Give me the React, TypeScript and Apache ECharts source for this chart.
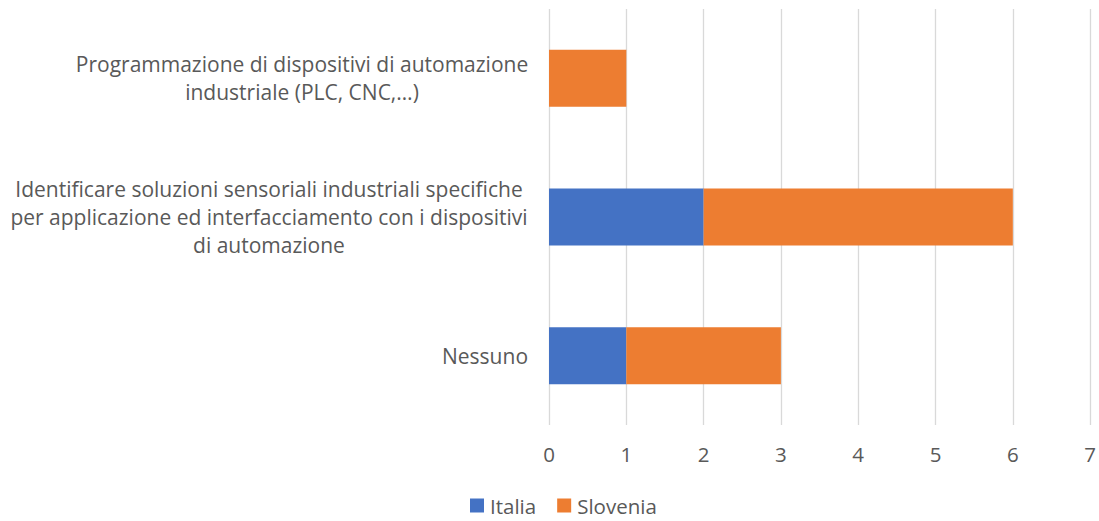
import React, { useEffect, useRef } from "react";
import * as echarts from "echarts";

const categories = [
  "Nessuno",
  "Identificare soluzioni sensoriali industriali specifiche per applicazione ed interfacciamento con i dispositivi di automazione",
  "Programmazione di dispositivi di automazione industriale (PLC, CNC,…)",
];
const labelLines = [
  ["Nessuno"],
  [
    "Identificare soluzioni sensoriali industriali specifiche",
    "per applicazione ed interfacciamento con i dispositivi",
    "di automazione",
  ],
  ["Programmazione di dispositivi di automazione", "industriale (PLC, CNC,…)"],
];
const labelWidths = [84, 516, 450];
const italia = [1, 2, 0];
const slovenia = [2, 4, 1];
const xTicks = [0, 7, 1];

const FONT = "'Open Sans', 'Noto Sans', sans-serif";
const TEXT = "#595959";

export default function App() {
  const ref = useRef<HTMLDivElement>(null);
  useEffect(() => {
    if (!ref.current) return;
    const chart = echarts.init(ref.current, undefined, { renderer: "svg" });
    const rich: Record<string, any> = {};
    labelWidths.forEach((w, i) => {
      rich["l" + i] = {
        width: w,
        align: "center",
        fontSize: 21,
        lineHeight: 28,
        color: TEXT,
        fontFamily: FONT,
      };
    });
    chart.setOption({
      animation: false,
      textStyle: { fontFamily: FONT },
      grid: { left: 549, right: 8, top: 9, bottom: 96, containLabel: false },
      xAxis: {
        type: "value",
        min: xTicks[0],
        max: xTicks[1],
        interval: xTicks[2],
        axisLine: { show: false },
        axisTick: { show: false },
        splitLine: { lineStyle: { color: "#d9d9d9", width: 1.3 } },
        axisLabel: { color: TEXT, fontSize: 20.5, fontFamily: FONT, margin: 18 },
      },
      yAxis: {
        type: "category",
        data: categories,
        axisLine: { show: false },
        axisTick: { show: false },
        axisLabel: {
          margin: 22,
          align: "right",
          formatter: (_v: string, idx: number) =>
            labelLines[idx].map((l) => `{l${idx}|${l}}`).join("\n"),
          rich,
        },
      },
      legend: {
        top: 490,
        left: 465,
        itemWidth: 14,
        itemHeight: 14,
        itemGap: 21,
        icon: "rect",
        textStyle: { color: TEXT, fontSize: 20.5, fontFamily: FONT, padding: [0, 0, 0, 1] },
        data: ["Italia", "Slovenia"],
      },
      series: [
        {
          name: "Italia",
          type: "bar",
          stack: "s",
          data: italia,
          barWidth: 57,
          itemStyle: { color: "#4472C4" },
        },
        {
          name: "Slovenia",
          type: "bar",
          stack: "s",
          data: slovenia,
          barWidth: 57,
          itemStyle: { color: "#ED7D31" },
        },
      ],
    });
    return () => chart.dispose();
  }, []);
  return (
    <div
      ref={ref}
      style={{ position: "fixed", left: 0, top: 0, width: 1099, height: 521, background: "#fff" }}
    />
  );
}
